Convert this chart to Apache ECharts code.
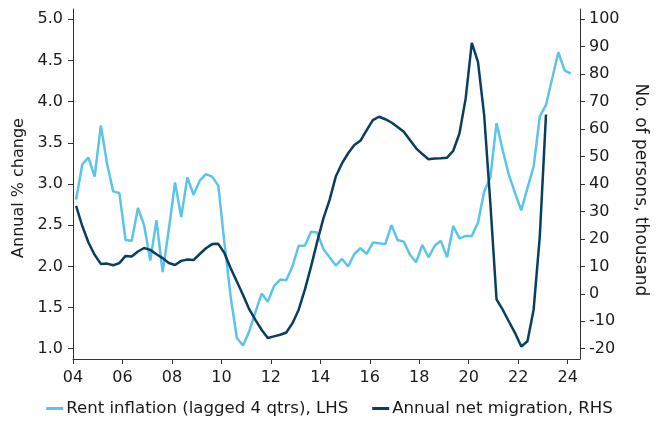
<!DOCTYPE html>
<html>
<head>
<meta charset="utf-8">
<script src="https://cdn.jsdelivr.net/npm/echarts@6/dist/echarts.min.js"></script>
<style>
html,body{margin:0;padding:0;background:#fff;}
#chart{width:659px;height:421px;}
</style>
</head>
<body>
<div id="chart"></div>
<script>
// Quarterly series; first observation 2004 Q1
const startYear = 2004;
const rentInflation = [
  2.81, 3.24, 3.32, 3.09,  3.71, 3.25, 2.91, 2.89,  2.32, 2.31, 2.71, 2.50,
  2.07, 2.56, 1.93, 2.45,  3.02, 2.60, 3.08, 2.87,  3.04, 3.12, 3.09, 2.98,
  2.28, 1.63, 1.13, 1.04,  1.21, 1.44, 1.67, 1.57,  1.76, 1.84, 1.83, 2.00,
  2.25, 2.25, 2.42, 2.41,  2.21, 2.11, 2.01, 2.09,  2.00, 2.15, 2.22, 2.15,
  2.29, 2.28, 2.27, 2.50,  2.32, 2.30, 2.14, 2.05,  2.26, 2.11, 2.25, 2.31,
  2.11, 2.49, 2.34, 2.37,  2.37, 2.53, 2.91, 3.08,  3.74, 3.41, 3.11, 2.89,
  2.68, 2.95, 3.21, 3.82,  3.96, 4.28, 4.60, 4.38,  4.34
];
const netMigration = [
  32.0, 24.7, 18.7, 14.2,  10.9, 11.0, 10.4, 11.2,  13.8, 13.6, 15.4, 16.7,
  16.0, 14.4, 13.0, 11.2,  10.5, 12.0, 12.5, 12.3,  14.5, 16.6, 18.1, 18.2,
  14.8, 9.3, 4.5, -0.4,  -5.6, -9.5, -13.1, -16.1,  -15.5, -14.9, -14.1, -10.7,
  -5.8, 1.5, 9.9, 19.0,  27.5, 34.2, 42.7, 47.5,  51.2, 54.2, 55.8, 59.6,
  63.3, 64.5, 63.6, 62.4,  60.8, 59.0, 56.0, 53.0,  50.9, 49.0, 49.3, 49.4,
  49.6, 52.1, 58.4, 71.0,  91.4, 84.5, 65.1, 33.0,  -2.0, -5.8, -10.1, -14.3,
  -19.2, -17.3, -5.8, 21.0,  65.3
];
const xTicks = [2004, 2006, 2008, 2010, 2012, 2014, 2016, 2018, 2020, 2022, 2024];
const leftTicks = [1.0, 1.5, 2.0, 2.5, 3.0, 3.5, 4.0, 4.5, 5.0];
const rightTicks = [-20, -10, 0, 10, 20, 30, 40, 50, 60, 70, 80, 90, 100];
const seriesNames = ['Rent inflation (lagged 4 qtrs), LHS', 'Annual net migration, RHS'];
const axisNames = ['Annual % change', 'No. of persons, thousand'];

function toPairs(values) {
  return values.map((v, i) => [startYear + (i + 0.5) / 4, v]);
}

const FONT = 'DejaVu Sans';
const TXT = '#1a1a1a';
const AX = '#333333';
const LIGHT = '#5bc4e8';
const DARK = '#083e5f';

const chart = echarts.init(document.getElementById('chart'), null, {renderer: 'canvas'});
chart.setOption({
  animation: false,
  backgroundColor: '#ffffff',
  textStyle: {fontFamily: FONT, color: TXT},
  grid: {left: 73, right: 79, top: 9, bottom: 62, containLabel: false},
  legend: {
    left: 'center', bottom: -1,
    itemWidth: 17, itemHeight: 3, itemGap: 24,
    icon: 'rect',
    textStyle: {fontFamily: FONT, fontSize: 16.6, color: TXT, padding: [0, 0, 0, -2]},
    data: seriesNames
  },
  xAxis: {
    type: 'value', min: 2004, max: 2024.5,
    axisLine: {show: true, onZero: false, lineStyle: {color: AX, width: 1}},
    axisTick: {show: true, length: 5, customValues: xTicks, lineStyle: {color: AX}},
    axisLabel: {customValues: xTicks, margin: 11, fontSize: 16, fontFamily: FONT, color: TXT,
      formatter: v => String(Math.round(v) % 100).padStart(2, '0')},
    splitLine: {show: false}
  },
  yAxis: [
    {
      type: 'value', min: 0.875, max: 5.125, position: 'left',
      name: axisNames[0], nameLocation: 'middle', nameGap: 46,
      nameTextStyle: {fontFamily: FONT, fontSize: 16, color: TXT, padding: [0, 8, 0, 0]},
      axisLine: {show: true, lineStyle: {color: AX, width: 1}},
      axisTick: {show: true, length: 5, customValues: leftTicks, lineStyle: {color: AX}},
      axisLabel: {customValues: leftTicks, margin: 10, fontSize: 16, fontFamily: FONT, color: TXT,
        formatter: v => v.toFixed(1)},
      splitLine: {show: false}
    },
    {
      type: 'value', min: -23.75, max: 103.75, position: 'right',
      name: axisNames[1], nameLocation: 'middle', nameGap: 52, nameRotate: -90,
      nameTextStyle: {fontFamily: FONT, fontSize: 17, color: TXT, padding: [0, 0, 0, 12]},
      axisLine: {show: true, lineStyle: {color: AX, width: 1}},
      axisTick: {show: true, length: 5, customValues: rightTicks, lineStyle: {color: AX}},
      axisLabel: {customValues: rightTicks, margin: 9, fontSize: 16, fontFamily: FONT, color: TXT,
        formatter: v => String(Math.round(v))},
      splitLine: {show: false}
    }
  ],
  series: [
    {
      name: seriesNames[0], type: 'line', yAxisIndex: 0,
      data: toPairs(rentInflation), showSymbol: false, symbol: 'none',
      lineStyle: {color: LIGHT, width: 2.5}, itemStyle: {color: LIGHT}, z: 2
    },
    {
      name: seriesNames[1], type: 'line', yAxisIndex: 1,
      data: toPairs(netMigration), showSymbol: false, symbol: 'none',
      lineStyle: {color: DARK, width: 2.5}, itemStyle: {color: DARK}, z: 3
    }
  ]
});
</script>
</body>
</html>
